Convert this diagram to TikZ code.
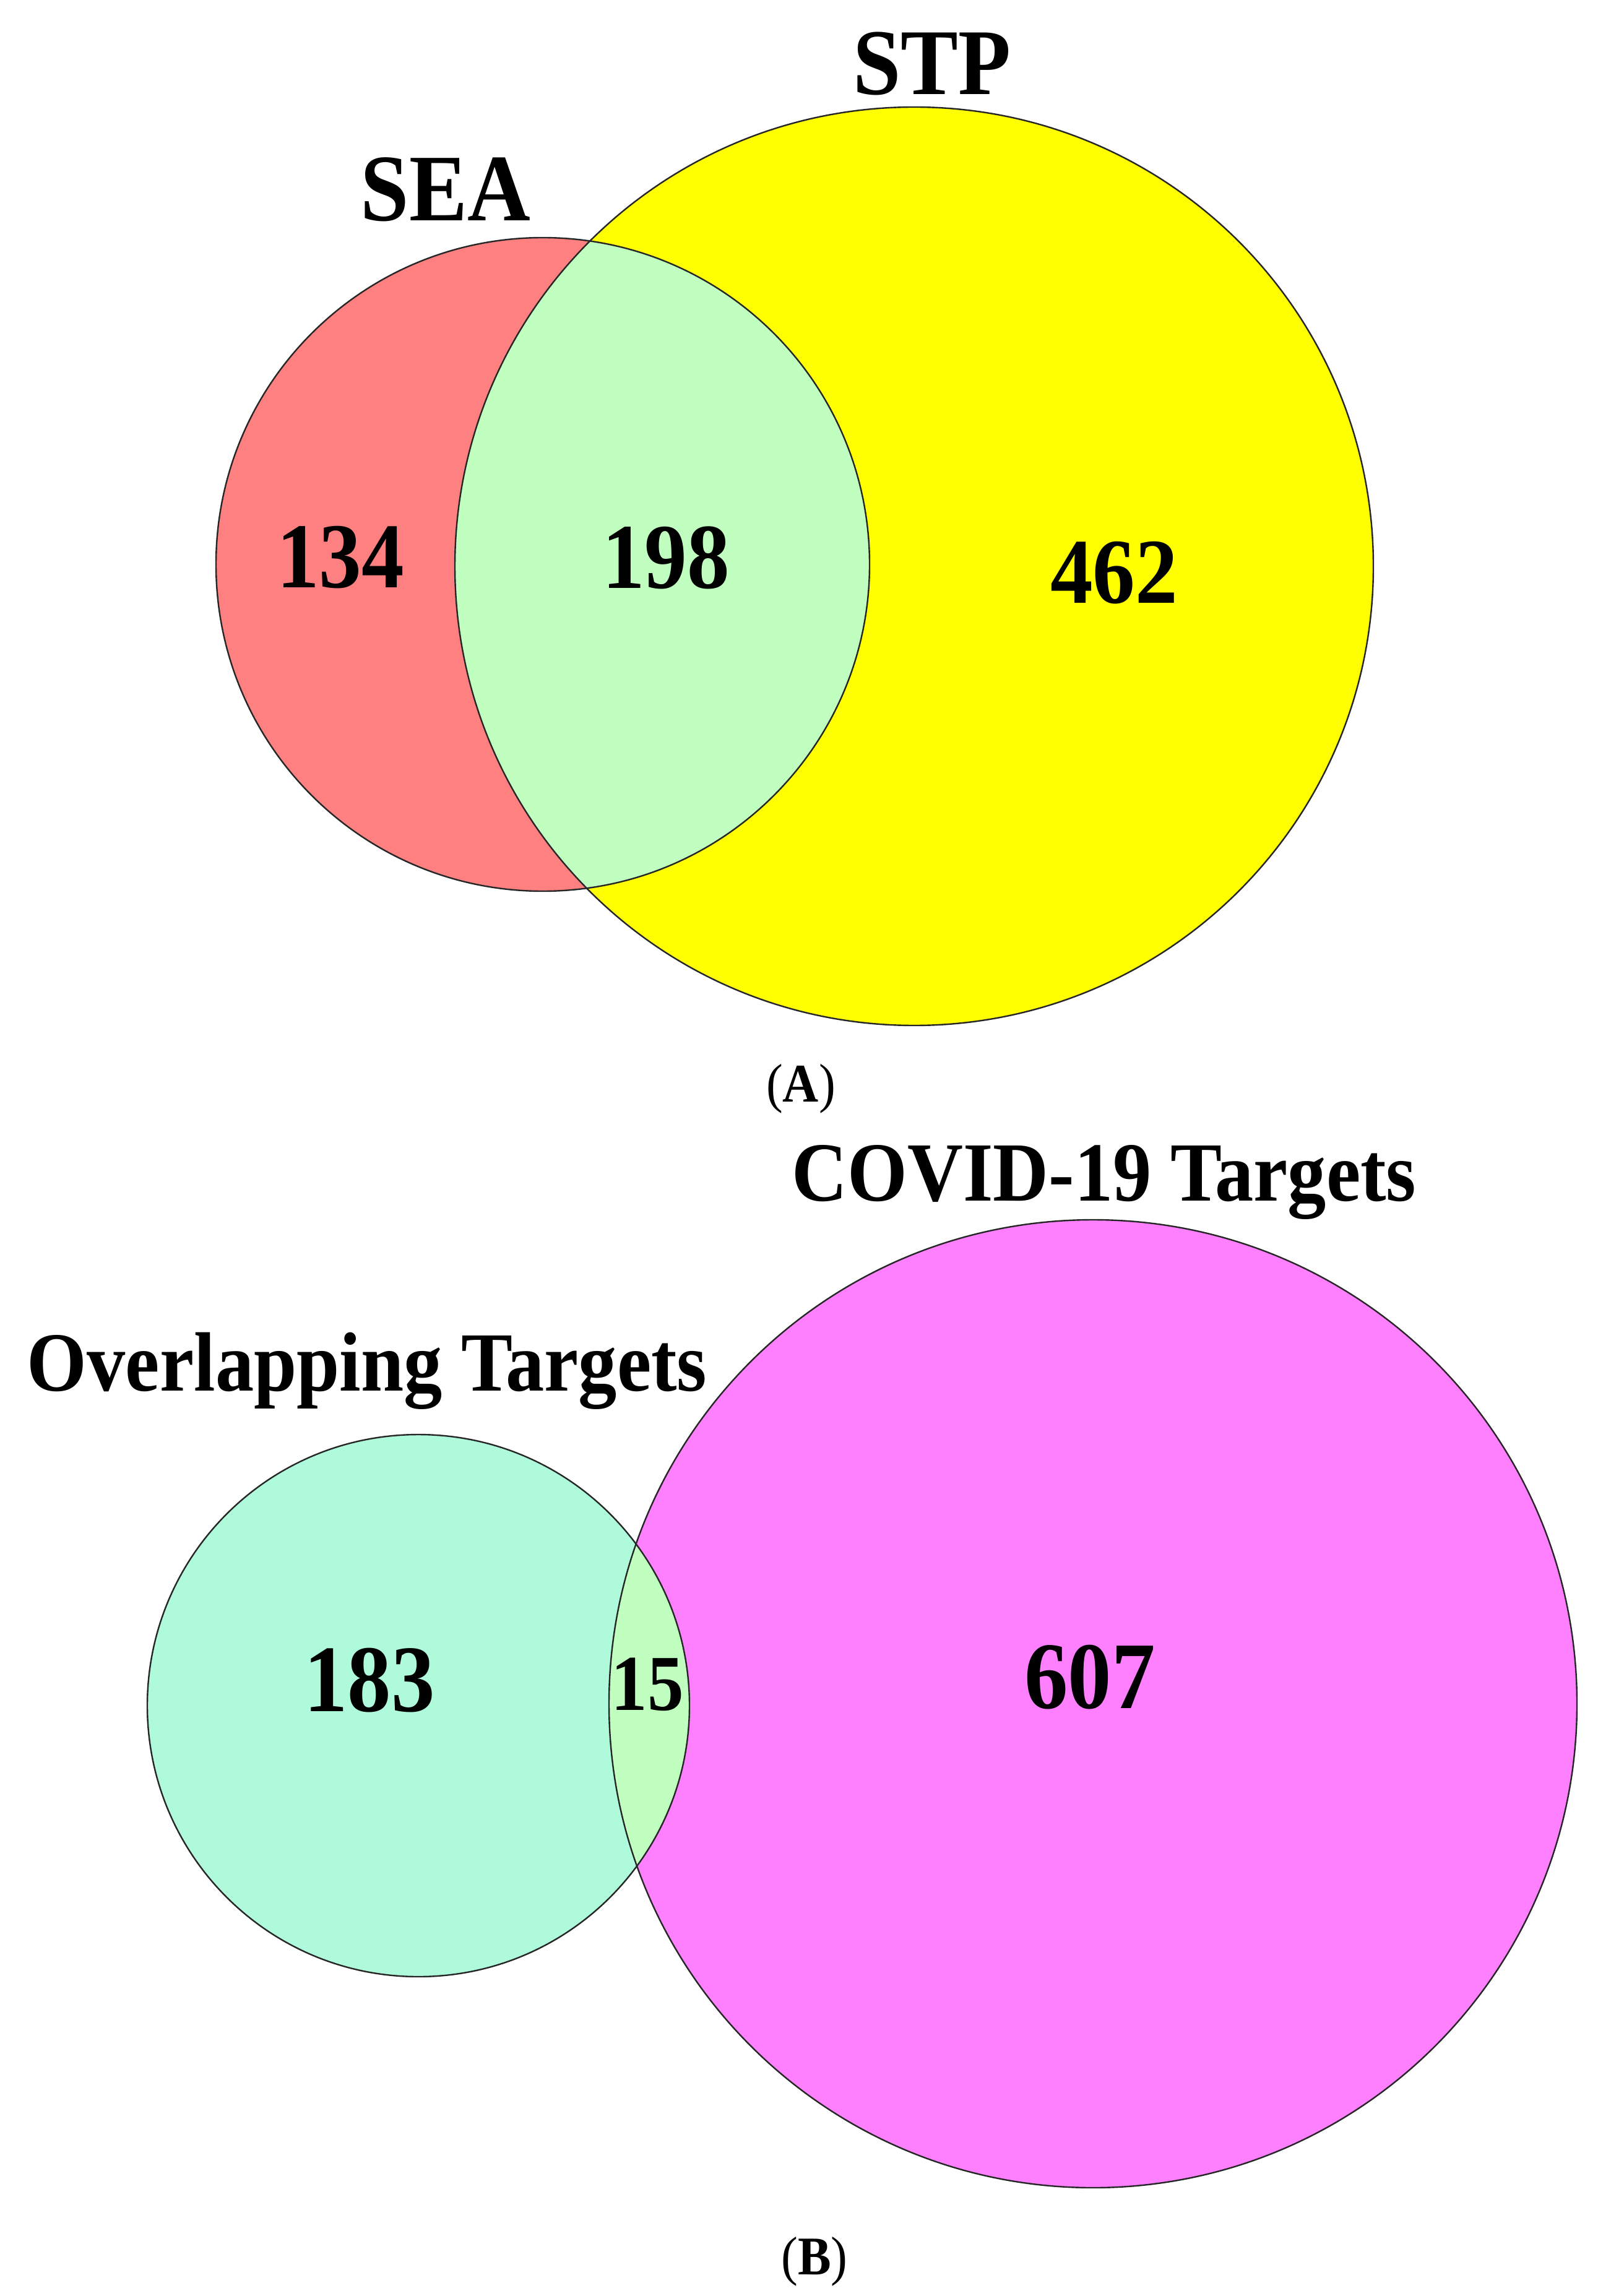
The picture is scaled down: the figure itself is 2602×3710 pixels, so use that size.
\documentclass[tikz,border=0pt]{standalone}
\usepackage{fontspec}
\setmainfont{Liberation Serif}[FakeStretch=0.915]
\definecolor{seared}{RGB}{255,128,128}
\definecolor{stpyellow}{RGB}{255,255,0}
\definecolor{overgreen}{RGB}{192,255,192}
\definecolor{teal1}{RGB}{176,250,220}
\definecolor{covidpink}{RGB}{255,128,255}
\tikzset{
  lbl/.style={inner sep=0pt, anchor=base, font=\bfseries},
  ring/.style={draw=black!85, line width=0.6pt},
}
\begin{document}
\begin{tikzpicture}[x=0.25pt,y=-0.25pt]
\useasboundingbox (0,0) rectangle (2602,3710);
\fill[white] (0,0) rectangle (2602,3710);
% ---------- (A) ----------
\coordinate (seac) at (877,912);
\coordinate (stpc) at (1477,915);
\fill[seared] (seac) circle[radius=132pt];
\fill[stpyellow] (stpc) circle[radius=185.5pt];
\begin{scope}
  \clip (seac) circle[radius=132pt];
  \fill[overgreen] (stpc) circle[radius=185.5pt];
\end{scope}
\draw[ring] (seac) circle[radius=132pt];
\draw[ring] (stpc) circle[radius=185.5pt];
\node[lbl, font=\bfseries\fontsize{38.5}{40}\selectfont] (sea) at (720,357) {SEA};
\node[lbl, font=\bfseries\fontsize{38}{40}\selectfont] (stp) at (1506,153) {STP};
\node[lbl, font=\bfseries\fontsize{37.5}{40}\selectfont] (n134) at (550,950) {134};
\node[lbl, font=\bfseries\fontsize{37.5}{40}\selectfont] (n198) at (1076,951) {198};
\node[lbl, font=\bfseries\fontsize{37.5}{40}\selectfont] (n462) at (1800,975) {462};
\node[lbl, font=\fontsize{22}{24}\selectfont] (capA) at (1294,1780) {(\textbf{A})};
% ---------- (B) ----------
\coordinate (ovc) at (676,2756);
\coordinate (cvc) at (1766,2753);
\fill[teal1] (ovc) circle[radius=109.5pt];
\fill[covidpink] (cvc) circle[radius=195.5pt];
\begin{scope}
  \clip (ovc) circle[radius=109.5pt];
  \fill[overgreen] (cvc) circle[radius=195.5pt];
\end{scope}
\draw[ring] (ovc) circle[radius=109.5pt];
\draw[ring] (cvc) circle[radius=195.5pt];
\node[lbl, font=\bfseries\fontsize{34}{36}\selectfont] (covid) at (1784,1940) {COVID-19 Targets};
\node[lbl, font=\bfseries\fontsize{34}{36}\selectfont] (overl) at (593,2247) {Overlapping Targets};
\node[lbl, font=\bfseries\fontsize{38.5}{40}\selectfont] (n183) at (597,2765) {183};
\node[lbl, font=\bfseries\fontsize{32}{34}\selectfont] (n15) at (1046,2763) {15};
\node[lbl, font=\bfseries\fontsize{38.5}{40}\selectfont] (n607) at (1761,2760) {607};
\node[lbl, font=\fontsize{22}{24}\selectfont] (capB) at (1316,3675) {(\textbf{B})};
\end{tikzpicture}
\end{document}
